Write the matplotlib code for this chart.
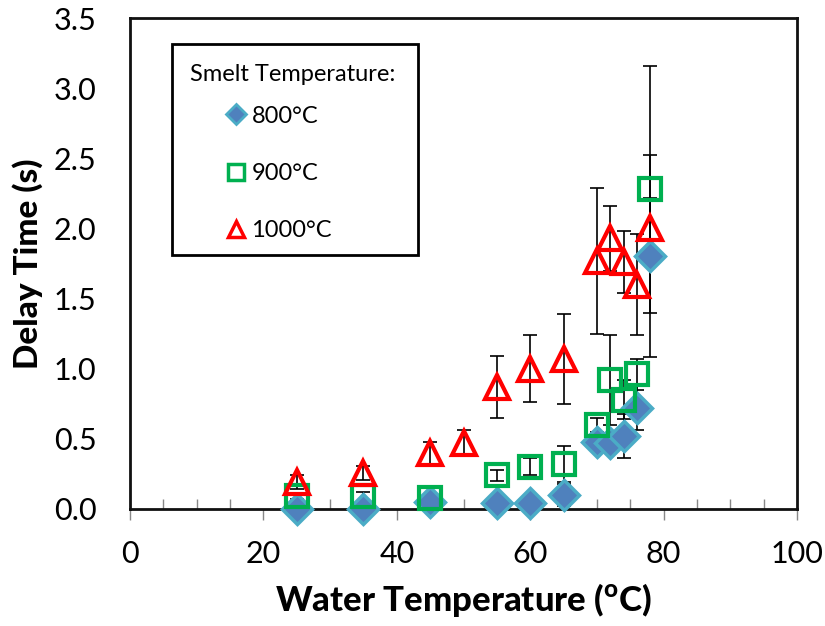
import matplotlib
matplotlib.use("Agg")
import matplotlib.pyplot as plt
from matplotlib.lines import Line2D
from matplotlib.patches import Rectangle
from matplotlib.ticker import MultipleLocator, FormatStrFormatter

plt.rcParams['font.family'] = ['Lato', 'DejaVu Sans']
plt.rcParams['mathtext.fontset'] = 'custom'
plt.rcParams['mathtext.rm'] = 'Lato'
plt.rcParams['mathtext.bf'] = 'Lato:black'

# data
x800 = [25, 35, 45, 55, 60, 65, 70, 72, 74, 76, 78]
y800 = [0.0, 0.0, 0.05, 0.04, 0.04, 0.10, 0.48, 0.47, 0.52, 0.72, 1.80]
e800 = [0.02, 0.02, 0.02, 0.02, 0.02, 0.08, 0.05, 0.05, 0.16, 0.16, 0.72]

x900 = [25, 35, 45, 55, 60, 65, 70, 72, 74, 76, 78]
y900 = [0.09, 0.09, 0.08, 0.24, 0.30, 0.32, 0.60, 0.92, 0.78, 0.96, 2.28]
e900 = [0.02, 0.03, 0.02, 0.04, 0.06, 0.13, 0.05, 0.32, 0.14, 0.11, 0.88]

x1000 = [25, 35, 45, 50, 55, 60, 65, 70, 72, 74, 76, 78]
y1000 = [0.19, 0.26, 0.40, 0.47, 0.87, 1.00, 1.07, 1.77, 1.93, 1.76, 1.60, 2.00]
e1000 = [0.05, 0.05, 0.08, 0.09, 0.22, 0.24, 0.32, 0.52, 0.23, 0.22, 0.36, 0.22]

labels = ['800°C', '900°C', '1000°C']

fig = plt.figure(figsize=(8.25, 6.26), dpi=100)
ax = fig.add_axes([130/825, 1 - 509/626, 667/825, 491/626])

# error bars first, markers on top
for xs, ys, es in [(x800, y800, e800), (x900, y900, e900), (x1000, y1000, e1000)]:
    ax.errorbar(xs, ys, yerr=es, fmt='none', ecolor='black', elinewidth=1.2,
                capsize=5, capthick=1.2, zorder=2, clip_on=False)

ax.plot(x800, y800, 'D', ms=15, mfc='#4F81BD', mec='#4BACC6', mew=2.5,
        zorder=3, clip_on=False)
ax.plot(x900, y900, 's', ms=16, mfc='none', mec='#00B050', mew=3,
        zorder=3, clip_on=False)
ax.plot(x1000, y1000, '^', ms=17, mfc='none', mec='#FF0000', mew=3,
        zorder=3, clip_on=False)

ax.set_xlim(0, 100)
ax.set_ylim(0, 3.5)
ax.xaxis.set_major_locator(MultipleLocator(20))
ax.xaxis.set_minor_locator(MultipleLocator(5))
ax.yaxis.set_major_locator(MultipleLocator(0.5))
ax.yaxis.set_major_formatter(FormatStrFormatter('%.1f'))
ax.tick_params(axis='x', which='major', direction='out', length=8, width=1,
               color='#888888', labelsize=22, pad=14)
ax.tick_params(axis='x', which='minor', direction='in', length=7, width=1,
               color='#888888')
ax.tick_params(axis='y', length=0, labelsize=22, pad=24)

for s in ax.spines.values():
    s.set_linewidth(2)
    s.set_color('#111111')

ax.set_xlabel('Water Temperature ($^{\\mathbf{o}}$C)', fontsize=25,
              fontweight='black', labelpad=10)
ax.set_ylabel('Delay Time (s)', fontsize=24, fontweight='black', labelpad=8)

# legend box: frame, title and entries
ax.add_patch(Rectangle((0.063, 0.517), 0.369, 0.430, transform=ax.transAxes,
                       fill=True, facecolor='white', edgecolor='black', lw=2,
                       zorder=4))
ax.text(0.09, 0.884, 'Smelt Temperature:', transform=ax.transAxes,
        fontsize=17, va='center', ha='left', zorder=5)
handles = [
    Line2D([], [], ls='none', marker='D', ms=10, mfc='#4F81BD', mec='#4BACC6', mew=2),
    Line2D([], [], ls='none', marker='s', ms=11, mfc='none', mec='#00B050', mew=2.5),
    Line2D([], [], ls='none', marker='^', ms=12, mfc='none', mec='#FF0000', mew=2.5),
]
leg = ax.legend(handles, labels, loc='upper left', bbox_to_anchor=(0.09, 0.8216),
                borderaxespad=0, borderpad=0, fontsize=17, frameon=False,
                handlelength=3.9, handletextpad=-1.3, labelspacing=1.54,
                numpoints=1)
leg.set_zorder(6)

fig.savefig('out.png', dpi=100)
